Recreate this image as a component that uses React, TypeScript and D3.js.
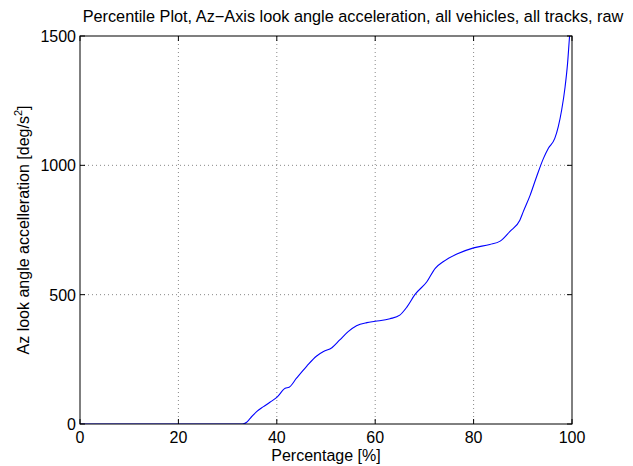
import React from "react";
import * as d3 from "d3";

const pctX = [0, 33.0, 33.8, 34.6, 35.9, 37.3, 38.6, 40.0, 41.7, 42.5, 44.0, 46.1, 48.1, 49.5, 51.2, 52.8, 54.5, 56.2, 58.3, 60.0, 63.0, 65.0, 66.4, 68.1, 70.5, 72.2, 73.8, 76.6, 80.0, 83.3, 85.4, 87.4, 89.4, 90.1, 91.5, 92.8, 94.2, 95.2, 96.5, 97.2, 97.9, 98.6, 99.1, 99.5, 99.8];
const accY = [0, 0, 6, 22, 48, 67, 84, 103, 138, 142, 177, 224, 263, 280, 295, 325, 357, 380, 392, 397, 407, 421, 451, 501, 550, 602, 627, 657, 681, 694, 707, 745, 788, 821, 885, 956, 1027, 1066, 1104, 1149, 1214, 1304, 1394, 1497, 1560];
const xTicks = [0, 20, 40, 60, 80, 100];
const yTicks = [0, 500, 1000, 1500];

export default function App() {
  const W = 633, H = 466;
  const L = 80, R = 572, T = 36, B = 424;
  const x = d3.scaleLinear().domain([0, 100]).range([L, R]);
  const y = d3.scaleLinear().domain([0, 1500]).range([B, T]);
  const pts: [number, number][] = pctX.map((v, i) => [v, accY[i]]);
  const line = d3.line<[number, number]>().x(d => x(d[0])).y(d => y(d[1])).curve(d3.curveMonotoneX);
  const font = "Liberation Sans, Arial, Helvetica, sans-serif";
  const fs = 16;
  return (
    <svg width={W} height={H} style={{ position: "absolute", left: 0, top: 0, background: "#fff" }} fontFamily={font}>
      <defs>
        <clipPath id="clip"><rect x={L} y={T} width={R - L} height={B - T} /></clipPath>
      </defs>
      <rect x={0} y={0} width={W} height={H} fill="#fff" />
      {xTicks.slice(1, -1).map(t => (
        <line key={"gx" + t} x1={x(t)} x2={x(t)} y1={T} y2={B} stroke="#888" strokeWidth={1} strokeDasharray="1,3" />
      ))}
      {yTicks.slice(1, -1).map(t => (
        <line key={"gy" + t} x1={L} x2={R} y1={y(t)} y2={y(t)} stroke="#888" strokeWidth={1} strokeDasharray="1,3" />
      ))}
      <path d={line(pts) || ""} fill="none" stroke="#0000ff" strokeWidth={1.1} clipPath="url(#clip)" />
      <rect x={L} y={T} width={R - L} height={B - T} fill="none" stroke="#000" strokeWidth={1} />
      {xTicks.map(t => (
        <g key={"tx" + t}>
          <line x1={x(t)} x2={x(t)} y1={B} y2={B - 5} stroke="#000" />
          <line x1={x(t)} x2={x(t)} y1={T} y2={T + 5} stroke="#000" />
          <text x={x(t)} y={B + 19} textAnchor="middle" fontSize={fs}>{t}</text>
        </g>
      ))}
      {yTicks.map(t => (
        <g key={"ty" + t}>
          <line x1={L} x2={L + 5} y1={y(t)} y2={y(t)} stroke="#000" />
          <line x1={R} x2={R - 5} y1={y(t)} y2={y(t)} stroke="#000" />
          <text x={L - 4} y={y(t) + 6} textAnchor="end" fontSize={fs}>{t}</text>
        </g>
      ))}
      <text x={353} y={22} textAnchor="middle" fontSize={16.3}>Percentile Plot, Az−Axis look angle acceleration, all vehicles, all tracks, raw</text>
      <text x={326} y={461} textAnchor="middle" fontSize={fs}>Percentage [%]</text>
      <text transform={`translate(29,${(T + B) / 2}) rotate(-90)`} textAnchor="middle" fontSize={fs}>
        Az look angle accelleration [deg/s<tspan dy={-7} fontSize={11}>2</tspan><tspan dy={7}>]</tspan>
      </text>
    </svg>
  );
}
